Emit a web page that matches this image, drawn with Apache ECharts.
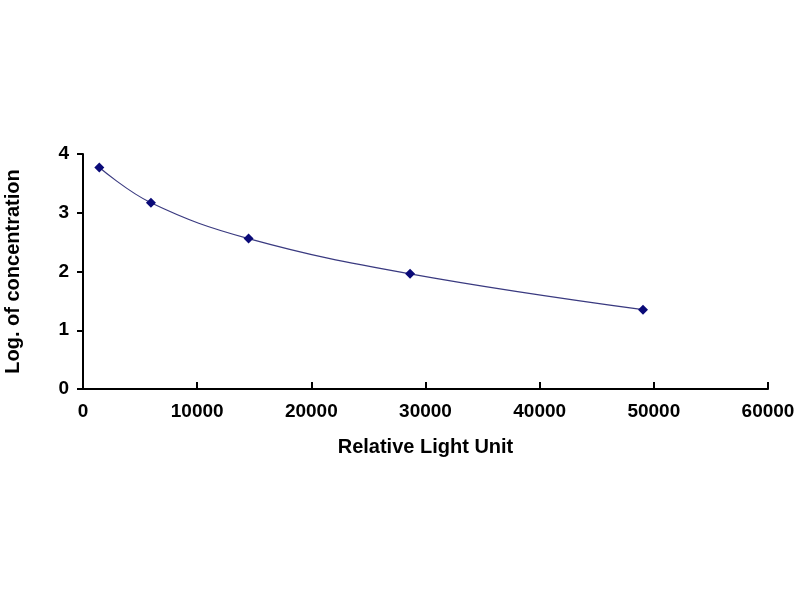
<!DOCTYPE html>
<html>
<head>
<meta charset="utf-8">
<title>Standard curve</title>
<script src="https://cdn.jsdelivr.net/npm/echarts@6/dist/echarts.min.js"></script>
<style>
  html, body { margin: 0; padding: 0; background: #fff; }
  #chart { width: 800px; height: 600px; }
</style>
</head>
<body>
<div id="chart"></div>
<script>
// readings from the picture
var rlu = [1430, 5950, 14500, 28650, 49050];
var logConc = [3.77, 3.17, 2.56, 1.96, 1.35];
var xTicks = [0, 10000, 20000, 30000, 40000, 50000, 60000];
var yTicks = [0, 1, 2, 3, 4];

var points = rlu.map(function (x, i) { return [x, logConc[i]]; });

var chart = echarts.init(document.getElementById('chart'));
var font = 'Liberation Sans, Arial, sans-serif';

chart.setOption({
    animation: false,
    grid: { left: 83, right: 32, top: 154, bottom: 211, containLabel: false, outerBoundsMode: 'none' },
    xAxis: {
        type: 'value',
        min: xTicks[0],
        max: xTicks[xTicks.length - 1],
        interval: 10000,
        name: 'Relative Light Unit',
        nameLocation: 'middle',
        nameGap: 48,
        nameTextStyle: { fontFamily: font, fontWeight: 'bold', fontSize: 20, color: '#000' },
        axisLine: { lineStyle: { color: '#000', width: 2 } },
        axisTick: { inside: true, length: 7, lineStyle: { color: '#000', width: 2 } },
        axisLabel: {
            fontFamily: font, fontWeight: 'bold', fontSize: 19, color: '#000', margin: 13,
            formatter: function (v) { return String(v); }
        },
        splitLine: { show: false }
    },
    yAxis: {
        type: 'value',
        min: yTicks[0],
        max: yTicks[yTicks.length - 1],
        interval: 1,
        name: 'Log. of concentration',
        nameLocation: 'middle',
        nameGap: 60,
        nameTextStyle: { fontFamily: font, fontWeight: 'bold', fontSize: 20, color: '#000' },
        axisLine: { show: true, lineStyle: { color: '#000', width: 2 } },
        axisTick: { show: true, length: 6, lineStyle: { color: '#000', width: 2 } },
        axisLabel: { fontFamily: font, fontWeight: 'bold', fontSize: 19, color: '#000', margin: 14 },
        splitLine: { show: false }
    },
    series: [{
        type: 'line',
        data: points,
        smooth: 0.4,
        symbol: 'diamond',
        symbolSize: 10,
        itemStyle: { color: '#0a0a78' },
        lineStyle: { color: '#3a3a80', width: 1.2 }
    }]
});
</script>
</body>
</html>
